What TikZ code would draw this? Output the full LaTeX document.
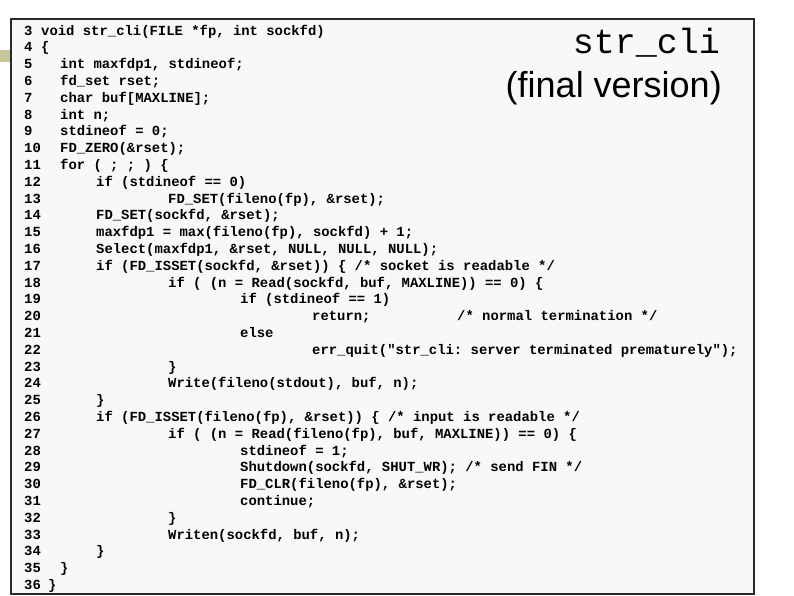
\documentclass[tikz,border=0pt]{standalone}
\usepackage{fontspec}
\setmainfont{Liberation Sans}
\setmonofont{Liberation Mono}
\definecolor{boxfill}{HTML}{F8F8F8}
\definecolor{boxline}{HTML}{2A2A2A}
\definecolor{olive}{HTML}{C8C49A}
\tikzset{codetext/.style={anchor=base west,inner sep=0pt,font=\ttfamily\bfseries\fontsize{13.9}{16}\selectfont}}
\newcommand{\cl}[3]{%
  \node[codetext] (n#1) at (24,{35+(#1-3)*16.8}) {#1};
  \node[codetext] (c#1) at (#2,{35+(#1-3)*16.8}) {#3};}
\begin{document}
\begin{tikzpicture}[x=1pt,y=-1pt]
\useasboundingbox (0,0) rectangle (794,595);
\fill[olive] (0,50) rectangle (10,62);
\draw[line width=2.5pt,draw=boxline,fill=boxfill] (11,19) rectangle (754,594);
\cl{3}{41}{void str\_cli(FILE *fp, int sockfd)}
\cl{4}{41}{\{}
\cl{5}{60}{int maxfdp1, stdineof;}
\cl{6}{60}{fd\_set rset;}
\cl{7}{60}{char buf[MAXLINE];}
\cl{8}{60}{int n;}
\cl{9}{60}{stdineof = 0;}
\cl{10}{60}{FD\_ZERO(\&rset);}
\cl{11}{60}{for ( ; ; ) \{}
\cl{12}{96}{if (stdineof == 0)}
\cl{13}{168}{FD\_SET(fileno(fp), \&rset);}
\cl{14}{96}{FD\_SET(sockfd, \&rset);}
\cl{15}{96}{maxfdp1 = max(fileno(fp), sockfd) + 1;}
\cl{16}{96}{Select(maxfdp1, \&rset, NULL, NULL, NULL);}
\cl{17}{96}{if (FD\_ISSET(sockfd, \&rset)) \{ /* socket is readable */}
\cl{18}{168}{if ( (n = Read(sockfd, buf, MAXLINE)) == 0) \{}
\cl{19}{240}{if (stdineof == 1)}
\cl{20}{312}{return;}
\node[codetext] (m20) at (457,{35+17*16.8}) {/* normal termination */};
\cl{21}{240}{else}
\cl{22}{312}{err\_quit("str\_cli: server terminated prematurely");}
\cl{23}{168}{\}}
\cl{24}{168}{Write(fileno(stdout), buf, n);}
\cl{25}{96}{\}}
\cl{26}{96}{if (FD\_ISSET(fileno(fp), \&rset)) \{ /* input is readable */}
\cl{27}{168}{if ( (n = Read(fileno(fp), buf, MAXLINE)) == 0) \{}
\cl{28}{240}{stdineof = 1;}
\cl{29}{240}{Shutdown(sockfd, SHUT\_WR); /* send FIN */}
\cl{30}{240}{FD\_CLR(fileno(fp), \&rset);}
\cl{31}{240}{continue;}
\cl{32}{168}{\}}
\cl{33}{168}{Writen(sockfd, buf, n);}
\cl{34}{96}{\}}
\cl{35}{60}{\}}
\cl{36}{48}{\}}
\node[anchor=base east,inner sep=0pt,font=\ttfamily\fontsize{35}{35}\selectfont] (t1) at (720,53) {str\_cli};
\node[anchor=base east,inner sep=0pt,font=\fontsize{36}{36}\selectfont] (t2) at (722,97) {(final version)};
\end{tikzpicture}
\end{document}
